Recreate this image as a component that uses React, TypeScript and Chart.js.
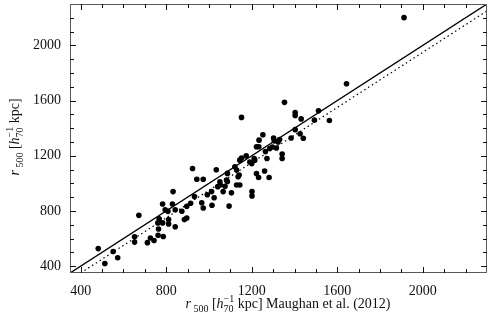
import React, { useEffect, useRef } from "react";
import { Chart, registerables } from "chart.js";

Chart.register(...registerables);

// r500 from Maughan et al. (2012) [x] vs this work [y], h70^-1 kpc
const xValues = [
  482, 513, 552, 573, 652, 652, 672, 712, 726, 743, 762, 786, 764, 761, 767, 783, 811, 811, 842, 783,
  795, 808, 829, 842, 873, 885, 832, 896, 896, 914, 932, 923, 943, 973, 966, 973, 1014, 992, 1012, 1034,
  1024, 1041, 1053, 1075, 1086, 1086, 1066, 1094, 1105, 1121, 1129, 1136, 1129, 1051, 1082, 1141, 1144, 1152, 1144, 1152,
  1174, 1191, 1200, 1214, 1222, 1232, 1211, 1201, 1201, 1222, 1233, 1234, 1252, 1260, 1281, 1264, 1271, 1284, 1296, 1302,
  1305, 1315, 1323, 1330, 1342, 1342, 1353, 1384, 1403, 1403, 1403, 1426, 1441, 1431, 1493, 1512, 1563, 1643, 1912,
];
const yValues = [
  527, 419, 505, 461, 612, 574, 768, 570, 604, 585, 624, 615, 669, 713, 742, 713, 737, 706, 685, 850,
  809, 797, 850, 809, 798, 737, 940, 749, 833, 856, 904, 1108, 1030, 1030, 859, 821, 841, 917, 940, 1098,
  895, 976, 988, 978, 1013, 1072, 940, 835, 931, 1120, 1096, 1048, 988, 1012, 1024, 1060, 988, 1478, 1168, 1184,
  1199, 1155, 1143, 1168, 1071, 1042, 1180, 940, 909, 1265, 1265, 1313, 1352, 1089, 1042, 1230, 1180, 1252, 1263, 1329,
  1308, 1256, 1300, 1318, 1213, 1180, 1587, 1329, 1389, 1514, 1492, 1359, 1327, 1467, 1458, 1526, 1455, 1722, 2201,
];

// one-to-one line (solid) and offset relation (dotted)
const solidLineX = [350, 2300];
const solidLineY = [350, 2300];
const dottedLineX = [400, 2300];
const dottedLineY = [350, 2250];

const axisMin = 350;
const axisMax = 2300;
const xTickLabels = [400, 800, 1200, 1600, 2000];
const yTickLabels = [400, 800, 1200, 1600, 2000];
const minorStep = 100;

const FONT = "'Liberation Serif', 'DejaVu Serif', serif";

type Seg = { t: string; size: number; italic?: boolean; dy?: number; stack?: { t: string; dy: number }[] };

function segWidth(ctx: CanvasRenderingContext2D, s: Seg): number {
  if (s.stack) {
    ctx.font = `${s.size}px ${FONT}`;
    return Math.max(...s.stack.map((k) => ctx.measureText(k.t).width));
  }
  ctx.font = `${s.italic ? "italic " : ""}${s.size}px ${FONT}`;
  return ctx.measureText(s.t).width;
}

function drawSegs(ctx: CanvasRenderingContext2D, segs: Seg[], x: number, y: number) {
  let cx = x;
  ctx.fillStyle = "#111";
  ctx.textBaseline = "alphabetic";
  ctx.textAlign = "left";
  for (const s of segs) {
    const w = segWidth(ctx, s);
    if (s.stack) {
      ctx.font = `${s.size}px ${FONT}`;
      for (const k of s.stack) ctx.fillText(k.t, cx, y + k.dy);
    } else {
      ctx.font = `${s.italic ? "italic " : ""}${s.size}px ${FONT}`;
      ctx.fillText(s.t, cx, y + (s.dy || 0));
    }
    cx += w;
  }
  return cx - x;
}

function totalWidth(ctx: CanvasRenderingContext2D, segs: Seg[]) {
  return segs.reduce((a, s) => a + segWidth(ctx, s), 0);
}

const r500Segs: Seg[] = [
  { t: "r", size: 14, italic: true },
  { t: " 500", size: 10, dy: 4 },
  { t: " [", size: 14 },
  { t: "h", size: 14, italic: true },
  { t: "", size: 10, stack: [{ t: "\u22121", dy: -6 }, { t: "70", dy: 4 }] },
  { t: " kpc]", size: 14 },
];

const frameTicksPlugin = {
  id: "frameTicks",
  afterDraw(chart: any) {
    const { ctx, chartArea: a, scales } = chart;
    const xs = scales.x;
    const ys = scales.y;
    ctx.save();
    ctx.strokeStyle = "#5a5a5a";
    ctx.lineWidth = 1;
    ctx.strokeRect(Math.round(a.left) + 0.5, Math.round(a.top) + 0.5, Math.round(a.right - a.left) - 1, Math.round(a.bottom - a.top) - 1);
    ctx.strokeStyle = "#111";
    ctx.beginPath();
    for (let v = axisMin + 50; v < axisMax; v += minorStep) {
      const major = xTickLabels.includes(v);
      const len = major ? 6 : 4;
      const px = Math.round(xs.getPixelForValue(v)) + 0.5;
      ctx.moveTo(px, a.bottom);
      ctx.lineTo(px, a.bottom - len);
      ctx.moveTo(px, a.top);
      ctx.lineTo(px, a.top + len);
    }
    for (let v = axisMin + 50; v < axisMax; v += minorStep) {
      const major = yTickLabels.includes(v);
      const len = major ? 6 : 4;
      const py = Math.round(ys.getPixelForValue(v)) + 0.5;
      ctx.moveTo(a.left, py);
      ctx.lineTo(a.left + len, py);
      ctx.moveTo(a.right, py);
      ctx.lineTo(a.right - len, py);
    }
    ctx.stroke();

    // x title
    const xSegs: Seg[] = [...r500Segs, { t: " Maughan et al. (2012)", size: 14 }];
    const xw = totalWidth(ctx, xSegs);
    drawSegs(ctx, xSegs, 288 - xw / 2, 308);

    // y title
    const yw = totalWidth(ctx, r500Segs);
    ctx.translate(19, 137);
    ctx.rotate(-Math.PI / 2);
    drawSegs(ctx, r500Segs, -yw / 2, 0);
    ctx.restore();
  },
};

function zeroPad(s: any) {
  s.paddingTop = 0;
  s.paddingBottom = 0;
  s.paddingLeft = 0;
  s.paddingRight = 0;
}

export default function App() {
  const ref = useRef<HTMLCanvasElement | null>(null);
  useEffect(() => {
    if (!ref.current) return;
    const points = xValues.map((x, i) => ({ x, y: yValues[i] }));
    const solid = solidLineX.map((x, i) => ({ x, y: solidLineY[i] }));
    const dotted = dottedLineX.map((x, i) => ({ x, y: dottedLineY[i] }));
    const chart = new Chart(ref.current, {
      type: "scatter",
      data: {
        datasets: [
          {
            type: "line",
            data: solid,
            borderColor: "#000",
            borderWidth: 1.4,
            pointRadius: 0,
            order: 2,
          } as any,
          {
            type: "line",
            data: dotted,
            borderColor: "#000",
            borderWidth: 1.2,
            borderDash: [1.5, 3],
            pointRadius: 0,
            order: 3,
          } as any,
          {
            data: points,
            backgroundColor: "#000",
            borderColor: "#000",
            pointRadius: 2.8,
            borderWidth: 0,
            order: 1,
          },
        ],
      },
      options: {
        animation: false,
        responsive: true,
        maintainAspectRatio: false,
        layout: { padding: { top: 3, right: 2, left: 0, bottom: 0 } },
        plugins: { legend: { display: false }, tooltip: { enabled: false } },
        scales: {
          x: {
            type: "linear",
            min: axisMin,
            max: axisMax,
            grid: { display: false, drawTicks: false },
            border: { display: false },
            afterBuildTicks: (s: any) => {
              s.ticks = xTickLabels.map((v) => ({ value: v }));
            },
            afterFit: (s: any) => {
              s.height = 50;
              zeroPad(s);
            },
            ticks: {
              padding: 10,
              color: "#111",
              maxRotation: 0,
              font: { family: FONT, size: 14 },
              callback: (v: any) => String(v),
            },
          },
          y: {
            type: "linear",
            min: axisMin,
            max: axisMax,
            grid: { display: false, drawTicks: false },
            border: { display: false },
            afterBuildTicks: (s: any) => {
              s.ticks = yTickLabels.map((v) => ({ value: v }));
            },
            afterFit: (s: any) => {
              s.width = 70;
              zeroPad(s);
            },
            ticks: {
              padding: 9,
              color: "#111",
              font: { family: FONT, size: 14 },
              callback: (v: any) => String(v),
            },
          },
        },
      },
      plugins: [frameTicksPlugin],
    });
    return () => chart.destroy();
  }, []);
  return (
    <div style={{ position: "fixed", left: 0, top: 0, width: 491, height: 323, background: "#fff" }}>
      <canvas ref={ref} />
    </div>
  );
}
